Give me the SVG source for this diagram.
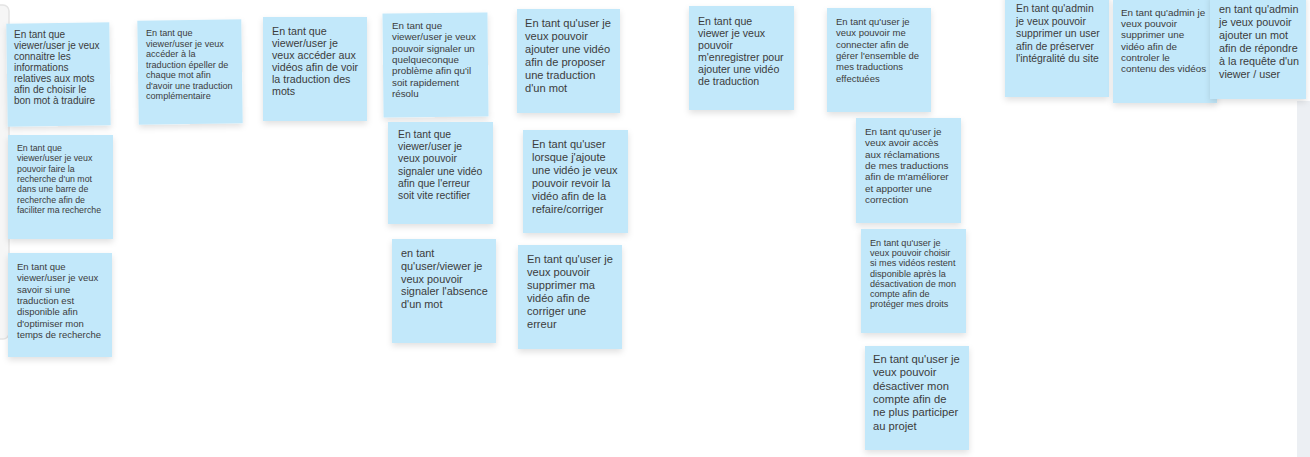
<svg xmlns="http://www.w3.org/2000/svg" width="1310" height="457" viewBox="0 0 1310 457">
<defs>
<filter id="sh" x="-10%" y="-10%" width="125%" height="130%">
<feDropShadow dx="0" dy="3" stdDeviation="3" flood-color="#000" flood-opacity="0.12"/>
</filter>
<style>
.n{fill:#c2e8fa;filter:url(#sh)}
.t{font-family:"Liberation Sans",Arial,sans-serif;fill:#3c3c3c}
</style>
</defs>
<rect width="1310" height="457" fill="#ffffff"/>
<rect x="-12" y="5" width="21" height="334" rx="6" fill="#f6f6f6" stroke="#e4e4e4" stroke-width="1.5"/>
<rect x="1297" y="101" width="14" height="360" fill="#eceff3"/>

<g id="note-a"><rect class="n" x="7" y="23" width="103" height="103" transform="rotate(-0.8 58 74)"/>
<text class="t" font-size="10" x="14"><tspan x="14" y="38">En tant que</tspan><tspan x="14" y="49">viewer/user je veux</tspan><tspan x="14" y="60">connaitre les</tspan><tspan x="14" y="71">informations</tspan><tspan x="14" y="82">relatives aux mots</tspan><tspan x="14" y="93">afin de choisir le</tspan><tspan x="14" y="104">bon mot à traduire</tspan></text></g>

<g id="note-b"><rect class="n" x="8" y="135" width="105" height="104"/>
<text class="t" font-size="8.8"><tspan x="17" y="151">En tant que</tspan><tspan x="17" y="161.3">viewer/user je veux</tspan><tspan x="17" y="171.6">pouvoir faire la</tspan><tspan x="17" y="181.9">recherche d'un mot</tspan><tspan x="17" y="192.2">dans une barre de</tspan><tspan x="17" y="202.5">recherche afin de</tspan><tspan x="17" y="212.8">faciliter ma recherche</tspan></text></g>

<g id="note-c"><rect class="n" x="8" y="253" width="104" height="104"/>
<text class="t" font-size="9.5"><tspan x="17" y="270">En tant que</tspan><tspan x="17" y="281.3">viewer/user je veux</tspan><tspan x="17" y="292.6">savoir si une</tspan><tspan x="17" y="303.9">traduction est</tspan><tspan x="17" y="315.2">disponible afin</tspan><tspan x="17" y="326.5">d'optimiser mon</tspan><tspan x="17" y="337.8">temps de recherche</tspan></text></g>

<g id="note-d"><rect class="n" x="138" y="20" width="104" height="104" transform="rotate(-0.8 190 72)"/>
<text class="t" font-size="9.1"><tspan x="146" y="36">En tant que</tspan><tspan x="146" y="46.5">viewer/user je veux</tspan><tspan x="146" y="57">accéder à la</tspan><tspan x="146" y="67.5">traduction épeller de</tspan><tspan x="146" y="78">chaque mot afin</tspan><tspan x="146" y="88.5">d'avoir une traduction</tspan><tspan x="146" y="99">complémentaire</tspan></text></g>

<g id="note-e"><rect class="n" x="263" y="17" width="104" height="104"/>
<text class="t" font-size="10.7"><tspan x="272" y="34.5">En tant que</tspan><tspan x="272" y="46.5">viewer/user je</tspan><tspan x="272" y="58.5">veux accéder aux</tspan><tspan x="272" y="70.5">vidéos afin de voir</tspan><tspan x="272" y="82.5">la traduction des</tspan><tspan x="272" y="94.5">mots</tspan></text></g>

<g id="note-f"><rect class="n" x="383" y="13" width="105" height="104" transform="rotate(-0.6 435 65)"/>
<text class="t" font-size="9.8"><tspan x="392" y="29">En tant que</tspan><tspan x="392" y="40.3">viewer/user je veux</tspan><tspan x="392" y="51.6">pouvoir signaler un</tspan><tspan x="392" y="62.9">quelqueconque</tspan><tspan x="392" y="74.2">problème afin qu'il</tspan><tspan x="392" y="85.5">soit rapidement</tspan><tspan x="392" y="96.8">résolu</tspan></text></g>

<g id="note-g"><rect class="n" x="388" y="122" width="105" height="102"/>
<text class="t" font-size="10.4"><tspan x="398" y="138">En tant  que</tspan><tspan x="398" y="150.2">viewer/user je</tspan><tspan x="398" y="162.4">veux pouvoir</tspan><tspan x="398" y="174.6">signaler une vidéo</tspan><tspan x="398" y="186.8">afin que l'erreur</tspan><tspan x="398" y="199">soit vite rectifier</tspan></text></g>

<g id="note-h"><rect class="n" x="517" y="9" width="103" height="104"/>
<text class="t" font-size="11.1"><tspan x="525" y="27">En tant qu'user je</tspan><tspan x="525" y="40">veux pouvoir</tspan><tspan x="525" y="53">ajouter une vidéo</tspan><tspan x="525" y="66">afin de proposer</tspan><tspan x="525" y="79">une traduction</tspan><tspan x="525" y="92">d'un mot</tspan></text></g>

<g id="note-i"><rect class="n" x="523" y="130" width="105" height="103"/>
<text class="t" font-size="11"><tspan x="532" y="148">En tant qu'user</tspan><tspan x="532" y="161">lorsque j'ajoute</tspan><tspan x="532" y="174">une vidéo je veux</tspan><tspan x="532" y="187">pouvoir revoir la</tspan><tspan x="532" y="200">vidéo afin de la</tspan><tspan x="532" y="213">refaire/corriger</tspan></text></g>

<g id="note-j"><rect class="n" x="392" y="239" width="104" height="104"/>
<text class="t" font-size="10.9"><tspan x="401" y="257">en tant</tspan><tspan x="401" y="269.8">qu'user/viewer  je</tspan><tspan x="401" y="282.6">veux pouvoir</tspan><tspan x="401" y="295.4">signaler l'absence</tspan><tspan x="401" y="308.2">d'un mot</tspan></text></g>

<g id="note-k"><rect class="n" x="518" y="245" width="104" height="104"/>
<text class="t" font-size="11.1"><tspan x="527" y="263">En tant qu'user je</tspan><tspan x="527" y="276">veux pouvoir</tspan><tspan x="527" y="289">supprimer ma</tspan><tspan x="527" y="302">vidéo afin de</tspan><tspan x="527" y="315">corriger une</tspan><tspan x="527" y="328">erreur</tspan></text></g>

<g id="note-l"><rect class="n" x="689" y="6" width="105" height="104"/>
<text class="t" font-size="10.6"><tspan x="698" y="25">En tant que</tspan><tspan x="698" y="37">viewer je veux</tspan><tspan x="698" y="49">pouvoir</tspan><tspan x="698" y="61">m'enregistrer pour</tspan><tspan x="698" y="73">ajouter une vidéo</tspan><tspan x="698" y="85">de traduction</tspan></text></g>

<g id="note-m"><rect class="n" x="827" y="8" width="104" height="104"/>
<text class="t" font-size="9.5"><tspan x="836" y="25">En tant qu'user je</tspan><tspan x="836" y="36.3">veux pouvoir me</tspan><tspan x="836" y="47.6">connecter afin de</tspan><tspan x="836" y="58.9">gérer l'ensemble de</tspan><tspan x="836" y="70.2">mes traductions</tspan><tspan x="836" y="81.5">effectuées</tspan></text></g>

<g id="note-n"><rect class="n" x="856" y="118" width="105" height="105"/>
<text class="t" font-size="9.9"><tspan x="865" y="135">En tant qu'user je</tspan><tspan x="865" y="146.3">veux avoir accès</tspan><tspan x="865" y="157.6">aux réclamations</tspan><tspan x="865" y="168.9">de mes traductions</tspan><tspan x="865" y="180.2">afin de m'améliorer</tspan><tspan x="865" y="191.5">et apporter une</tspan><tspan x="865" y="202.8">correction</tspan></text></g>

<g id="note-o"><rect class="n" x="861" y="229" width="105" height="104"/>
<text class="t" font-size="9.1"><tspan x="870" y="246">En tant qu'user je</tspan><tspan x="870" y="256.2">veux pouvoir choisir</tspan><tspan x="870" y="266.4">si mes vidéos restent</tspan><tspan x="870" y="276.6">disponible après la</tspan><tspan x="870" y="286.8">désactivation de mon</tspan><tspan x="870" y="297">compte afin de</tspan><tspan x="870" y="307.2">protéger mes droits</tspan></text></g>

<g id="note-p"><rect class="n" x="865" y="346" width="104" height="104"/>
<text class="t" font-size="11.2"><tspan x="873" y="363">En tant qu'user je</tspan><tspan x="873" y="376.3">veux pouvoir</tspan><tspan x="873" y="389.6">désactiver mon</tspan><tspan x="873" y="402.9">compte afin de</tspan><tspan x="873" y="416.2">ne plus participer</tspan><tspan x="873" y="429.5">au projet</tspan></text></g>

<g id="note-q"><rect class="n" x="1005" y="-7" width="104" height="104"/>
<text class="t" font-size="10.4"><tspan x="1016" y="12">En tant qu'admin</tspan><tspan x="1016" y="24.5">je veux pouvoir</tspan><tspan x="1016" y="37">supprimer un user</tspan><tspan x="1016" y="49.5">afin de préserver</tspan><tspan x="1016" y="62">l'intégralité du site</tspan></text></g>

<g id="note-r"><rect class="n" x="1113" y="-1" width="104" height="104"/>
<text class="t" font-size="9.9"><tspan x="1121" y="16">En tant qu'admin je</tspan><tspan x="1121" y="27.2">veux pouvoir</tspan><tspan x="1121" y="38.4">supprimer une</tspan><tspan x="1121" y="49.6">vidéo afin de</tspan><tspan x="1121" y="60.8">controler le</tspan><tspan x="1121" y="72">contenu des vidéos</tspan></text></g>

<g id="note-s"><rect class="n" x="1210" y="-5" width="96" height="104"/>
<text class="t" font-size="10.8"><tspan x="1219" y="13">en tant qu'admin</tspan><tspan x="1219" y="26">je veux pouvoir</tspan><tspan x="1219" y="39">ajouter un mot</tspan><tspan x="1219" y="52">afin de répondre</tspan><tspan x="1219" y="65">à la requête d'un</tspan><tspan x="1219" y="78">viewer / user</tspan></text></g>

<g id="connectors"></g>
</svg>
